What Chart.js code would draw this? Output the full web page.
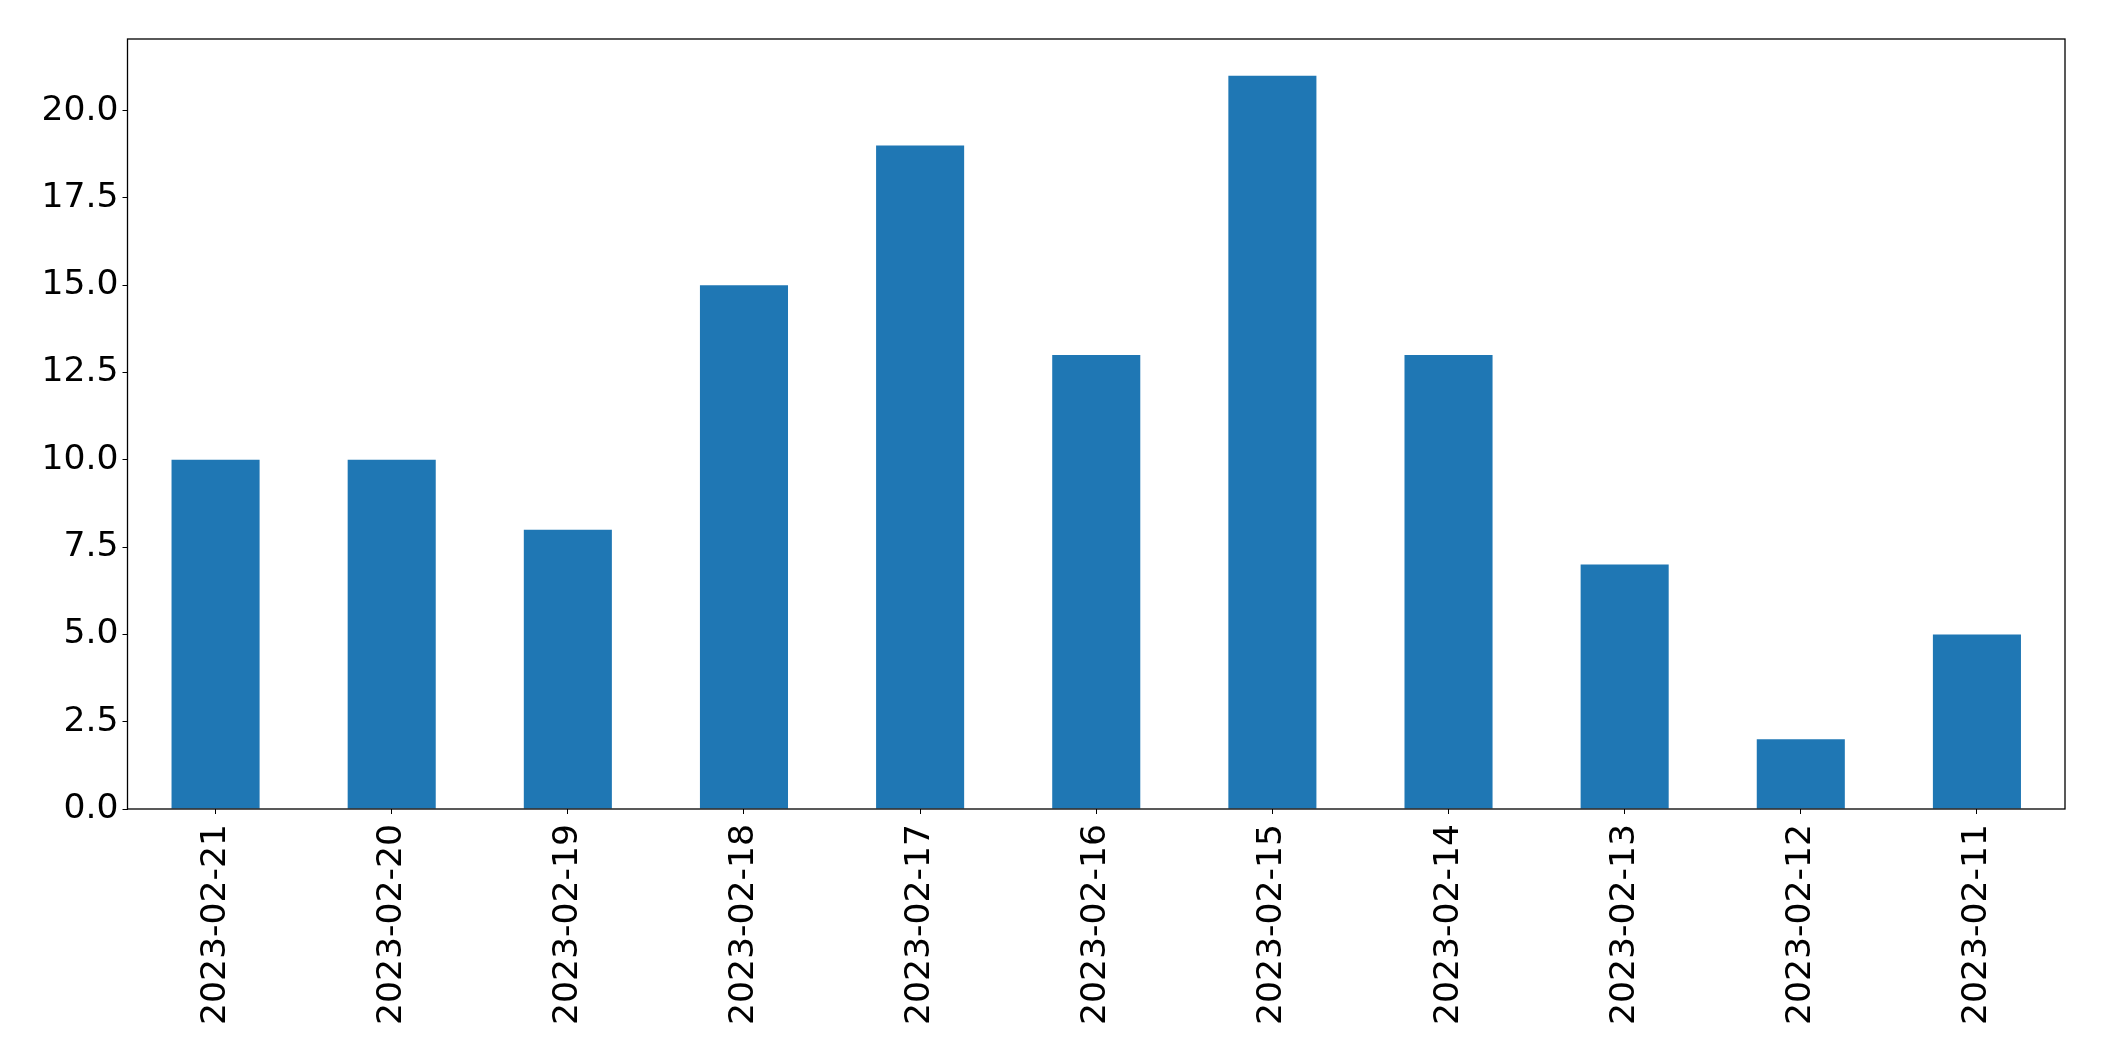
<!DOCTYPE html>
<html>
<head>
<meta charset="utf-8">
<script src="https://cdn.jsdelivr.net/npm/chart.js@4/dist/chart.umd.min.js"></script>
<style>
  html, body { margin: 0; padding: 0; background: #fff; }
  #wrap { width: 2104px; height: 1061px; }
</style>
</head>
<body>
<div id="wrap"><canvas id="c" width="2104" height="1061"></canvas></div>
<script>
const categories = ['2023-02-21','2023-02-20','2023-02-19','2023-02-18','2023-02-17','2023-02-16','2023-02-15','2023-02-14','2023-02-13','2023-02-12','2023-02-11'];
const counts = [10, 10, 8, 15, 19, 13, 21, 13, 7, 2, 5];
const yTicks = [0, 2.5, 5, 7.5, 10, 12.5, 15, 17.5, 20];
const yMax = 22.05;

const frame = {
  id: 'frame',
  afterDraw(chart) {
    const a = chart.chartArea, ctx = chart.ctx;
    ctx.save();
    ctx.strokeStyle = '#000';
    ctx.lineWidth = 1.3;
    ctx.strokeRect(a.left, a.top, a.right - a.left, a.bottom - a.top);
    ctx.restore();
  }
};

const font = { family: 'DejaVu Sans', size: 34.6 };

new Chart(document.getElementById('c'), {
  type: 'bar',
  data: {
    labels: categories,
    datasets: [{
      data: counts,
      backgroundColor: '#1f77b4',
      borderWidth: 0,
      categoryPercentage: 1.0,
      barPercentage: 0.5
    }]
  },
  options: {
    responsive: false,
    animation: false,
    devicePixelRatio: 1,
    layout: { padding: { left: 0, right: 39, top: 39, bottom: 0 } },
    plugins: { legend: { display: false }, tooltip: { enabled: false } },
    scales: {
      x: {
        offset: true,
        grid: { drawOnChartArea: false, drawTicks: true, tickLength: 5, color: '#000', offset: false },
        border: { display: false },
        ticks: { color: '#000', font: font, minRotation: 90, maxRotation: 90, autoSkip: false, padding: 10 },
        afterFit(s) { s.height = 252; }
      },
      y: {
        min: 0,
        max: yMax,
        grid: { drawOnChartArea: false, drawTicks: true, tickLength: 5, color: '#000' },
        border: { display: false },
        ticks: {
          color: '#000', font: font, padding: 4,
          callback: v => Number(v).toFixed(1)
        },
        afterBuildTicks(s) { s.ticks = yTicks.map(v => ({ value: v })); },
        afterFit(s) { s.width = 127.5; }
      }
    }
  },
  plugins: [frame]
});
</script>
</body>
</html>
